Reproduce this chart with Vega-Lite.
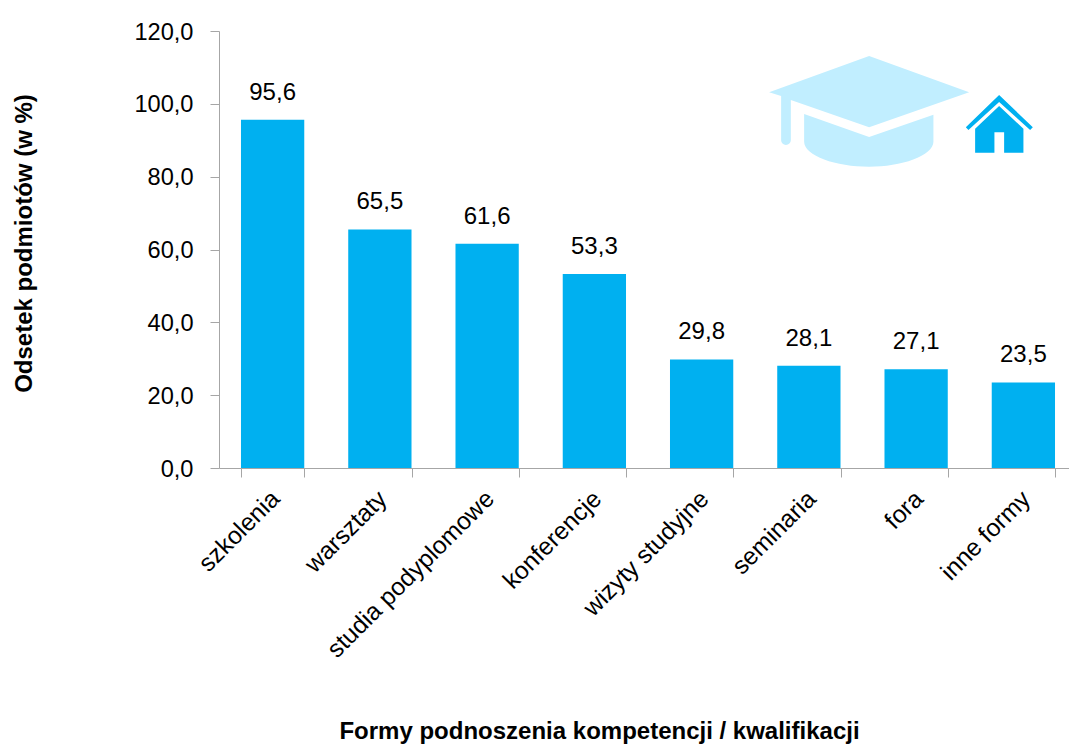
{
"$schema":"https://vega.github.io/schema/vega-lite/v6.json",
"width":858,"height":437,
"autosize":{"type":"none"},
"padding":{"left":219,"top":31,"right":0,"bottom":277},
"background":"white",
"config":{"locale":{"number":{"decimal":",","thousands":" ","grouping":[3],"currency":["","zł"]}},"view":{"stroke":null},"font":"Liberation Sans"},
"datasets":{
"bars":[
{"forma":"szkolenia","odsetek":95.6},
{"forma":"warsztaty","odsetek":65.5},
{"forma":"studia podyplomowe","odsetek":61.6},
{"forma":"konferencje","odsetek":53.3},
{"forma":"wizyty studyjne","odsetek":29.8},
{"forma":"seminaria","odsetek":28.1},
{"forma":"fora","odsetek":27.1},
{"forma":"inne formy","odsetek":23.5}],
"icon":[{"forma":"fora","odsetek":100}]
},
"encoding":{
"x":{"field":"forma","type":"nominal","sort":null,"scale":{"paddingInner":0.41,"paddingOuter":0.205},
"axis":{"title":"Formy podnoszenia kompetencji / kwalifikacji","titleFontSize":24,"titleFontWeight":"bold","titleColor":"#000","titleX":380,"titleY":270,"titleBaseline":"alphabetic",
"labelAngle":-45,"labelAlign":"right","labelBaseline":"middle","labelFontSize":24.6,"labelColor":"#000","labelPadding":18,"labelOffset":3,"tickSize":9,"tickColor":"#a6a6a6","domainColor":"#a6a6a6","tickBand":"extent","labelLimit":400,"grid":false}},
"y":{"field":"odsetek","type":"quantitative","scale":{"domain":[0,120]},
"axis":{"title":"Odsetek podmiotów (w %)","titleFontSize":24,"titleFontWeight":"bold","titleColor":"#000","titleX":-183,"titleY":212,"format":".1f","values":[0,20,40,60,80,100,120],"labelFontSize":23.6,"labelColor":"#000","labelPadding":17,"labelOffset":1,"tickSize":9,"tickColor":"#a6a6a6","domainColor":"#a6a6a6","grid":false}}
},
"layer":[
{"data":{"name":"bars"},"mark":{"type":"bar","color":"#00b0f0"}},
{"data":{"name":"bars"},"mark":{"type":"text","dy":-27,"fontSize":24,"color":"#000"},"encoding":{"text":{"field":"odsetek","type":"quantitative","format":".1f"}}},
{"data":{"name":"icon"},"mark":{"type":"point","filled":true,"opacity":1,"color":"#c1eeff","size":4,"shape":"M -47 -47.8 L 53 -11.5 L -47 23.5 L -125.3 -3.8 L -125.3 36.2 A 4.85 4.85 0 0 1 -135 36.2 L -135 -7.8 L -147 -11.5 Z M -112 10.2 L -47 33.2 L 17.3 10.9 L 17.3 37.9 C 17.3 52 -15 62.9 -47 62.9 C -80 62.9 -112 52 -112 37.9 Z"}},
{"data":{"name":"icon"},"mark":{"type":"point","filled":true,"opacity":1,"color":"#00b0f0","size":4,"shape":"M 83 -8.8 L 116.7 23.5 L 114 26.2 L 83 -1.8 L 52.3 26.2 L 49.7 23.5 Z M 83 2.2 L 107.3 24.9 L 107.3 48.9 L 88 48.9 L 88 28.5 L 78.3 28.5 L 78.3 48.9 L 59 48.9 L 59 24.9 Z"}}
]
}
